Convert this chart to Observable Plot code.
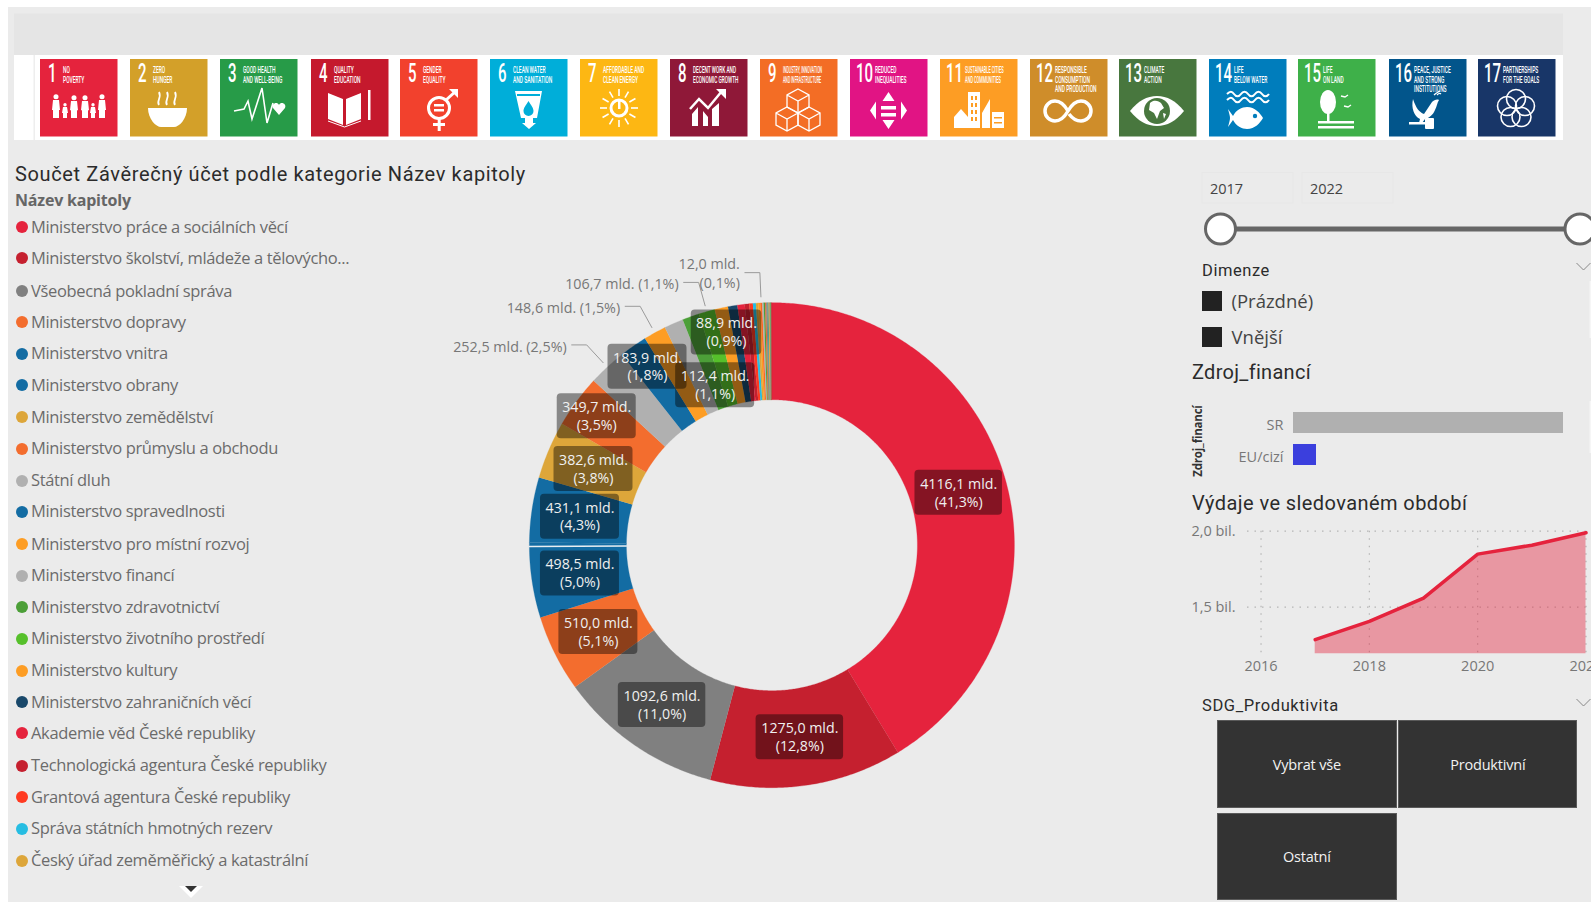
<!DOCTYPE html>
<html lang="cs">
<head>
<meta charset="utf-8">
<title>Závěrečný účet podle kapitol</title>
<script src="https://cdn.jsdelivr.net/npm/d3@7"></script>
<script src="https://cdn.jsdelivr.net/npm/@observablehq/plot@0.6"></script>
<style>
  html, body { margin: 0; padding: 0; background: #fff; overflow: hidden; }
  #page { position: absolute; left: 0; top: 0; width: 1591px; height: 902px; overflow: hidden; }
  #bg { position: absolute; left: 8px; top: 7px; right: 0; bottom: 0; background: #ebebeb; }
  .t { position: absolute; white-space: nowrap; line-height: 1; transform: translateY(-50%); }
  .body { font-family: "Open Sans", sans-serif; }
  .din { font-family: Roboto, sans-serif; color: #2b2b2b; }
  .legend { font-size: 16.5px; color: #6b6b6b; letter-spacing: -0.35px; }
  .dot { position: absolute; width: 12px; height: 12px; border-radius: 50%; }
  .box { position: absolute; box-sizing: border-box; }
  .btn { position: absolute; box-sizing: border-box; background: #333; border: 1.5px solid #5a5a5a; color: #f2f2f2;
         display: flex; align-items: center; justify-content: center; font: 14.5px "Open Sans", sans-serif; letter-spacing: -0.2px; }
  .plot-holder { position: absolute; }
  .plot-holder svg { max-width: none !important; }
  svg.overlay { position: absolute; left: 0; top: 0; }
</style>
</head>
<body>
<div id="page"><div id="bg"></div></div>
<script>
// ---- Chapters of the state budget, clockwise from twelve o'clock (billions CZK) ----
const chapterNames = [
  "Ministerstvo práce a sociálních věcí", "Ministerstvo školství, mládeže a tělovýcho...", "Všeobecná pokladní správa",
  "Ministerstvo dopravy", "Ministerstvo vnitra", "Ministerstvo obrany", "Ministerstvo zemědělství",
  "Ministerstvo průmyslu a obchodu", "Státní dluh", "Ministerstvo spravedlnosti", "Ministerstvo pro místní rozvoj",
  "Ministerstvo financí", "Ministerstvo zdravotnictví", "Ministerstvo životního prostředí", "Ministerstvo kultury",
  "Ministerstvo zahraničních věcí", "Akademie věd České republiky", "Technologická agentura České republiky",
  "Grantová agentura České republiky", "Správa státních hmotných rezerv", "Český úřad zeměměřický a katastrální"
];
const chapterValues = [4116.1, 1275.0, 1092.6, 510.0, 498.5, 431.1, 382.6, 349.7, 252.5, 183.9, 148.6,
                       128, 112.4, 106.7, 88.9, 62, 48, 30, 24, 20, 15];
const chapterColors = ["#e5233d", "#c5202f", "#808080", "#f36d2e", "#136ca3", "#136ca3", "#dda63a", "#f36d2e",
                       "#b0b0b0", "#136ca3", "#fd9d24", "#b0b0b0", "#4c9f38", "#56c02b", "#fd9d24", "#19486a",
                       "#e5233d", "#c5202f", "#ff3a21", "#26bde2", "#dda63a"];
// Small chapters further down the scrolling legend
const smallValues = [14, 12.0, 10, 9, 8, 8, 7, 6, 6, 5, 5];
const smallColors = ["#fd9d24", "#fd6925", "#b0b0b0", "#4c9f38", "#dd6b3a", "#808080", "#3f9e8f", "#fd9d24", "#808080", "#56a03b", "#c5202f"];

// Chapters whose label is drawn outside the ring with a leader line
const outsideLabels = ["Státní dluh", "Ministerstvo pro místní rozvoj", "Ministerstvo životního prostředí", "malá kapitola 2"];
// Chapters without any label
const unlabelled = ["Ministerstvo financí"];
// Labels pushed away from the middle of the ring so they do not collide
const labelRadii = { "Ministerstvo průmyslu a obchodu": 0.897, "Ministerstvo spravedlnosti": 0.897,
                     "Ministerstvo kultury": 0.897, "Ministerstvo zdravotnictví": 0.70 };

// ---- Goals strip ----
const goalNumbers = ["1","2","3","4","5","6","7","8","9","10","11","12","13","14","15","16","17"];
const goalTitles = [["NO","POVERTY"],["ZERO","HUNGER"],["GOOD HEALTH","AND WELL-BEING"],["QUALITY","EDUCATION"],["GENDER","EQUALITY"],
  ["CLEAN WATER","AND SANITATION"],["AFFORDABLE AND","CLEAN ENERGY"],["DECENT WORK AND","ECONOMIC GROWTH"],["INDUSTRY, INNOVATION","AND INFRASTRUCTURE"],
  ["REDUCED","INEQUALITIES"],["SUSTAINABLE CITIES","AND COMMUNITIES"],["RESPONSIBLE","CONSUMPTION","AND PRODUCTION"],["CLIMATE","ACTION"],
  ["LIFE","BELOW WATER"],["LIFE","ON LAND"],["PEACE, JUSTICE","AND STRONG","INSTITUTIONS"],["PARTNERSHIPS","FOR THE GOALS"]];
const goalColors = ["#e5233d","#d3a029","#279b48","#c5192d","#f2412d","#00aed9","#fdb713","#8f1838","#f36d25","#e11484","#fd9d24","#cf8d2a","#48773e","#007dbc","#3eb049","#02558b","#183668"];
const goalLeft = [40,130,220,311,400,490,580,670,760,850,940,1030,1119,1209,1298,1389,1478];

// ---- Side panels ----
const yearRange = ["2017", "2022"];
const dimensionItems = ["(Prázdné)", "Vnější"];
const sourceNames = ["SR", "EU/cizí"];
const sourceValues = [9184, 782];
const sourceColors = ["#b0b0b0", "#3b3fdd"];
const spendYears = [2017, 2018, 2019, 2020, 2021, 2022];
const spendValues = [1.286, 1.406, 1.559, 1.849, 1.908, 1.99];
const spendYearTicks = [2016, 2018, 2020, 2022];
const spendValueTicks = [1.5, 2.0];
const spendValueLabels = ["1,5 bil.", "2,0 bil."];
const productivityItems = ["Vybrat vše", "Produktivní", "Ostatní"];

const page = document.getElementById("page");

function addText(text, x, y, cls, style = "") {
  const el = document.createElement("div");
  el.className = "t " + cls;
  el.textContent = text;
  el.style.cssText = `left:${x}px;top:${y}px;${style}`;
  page.appendChild(el);
  return el;
}
function addSvg(markup) {
  const host = document.createElement("div");
  host.innerHTML = `<svg class="overlay" width="1591" height="902" viewBox="0 0 1591 902">${markup}</svg>`;
  page.appendChild(host.firstChild);
}
function place(node, left, top) {
  const holder = document.createElement("div");
  holder.className = "plot-holder";
  holder.style.cssText = `left:${left}px;top:${top}px`;
  holder.appendChild(node);
  page.appendChild(holder);
}

// ---- Header band and goal tiles ----
function goalIcon(i, c) {
  const W = 'fill="#fff"', S = 'fill="none" stroke="#fff"';
  const person = (x, top, h, w) => `<circle cx="${x}" cy="${top + w * .45}" r="${w * .42}" ${W}/><path d="M${x - w / 2} ${top + w}h${w}l1 ${(h - w) * .55}h-1v${(h - w) * .45}h-${w}v-${(h - w) * .45}h-1z" ${W}/>`;
  const icons = [
    person(16, 35, 24, 6) + person(25, 44, 15, 4) + person(34, 36, 23, 6) + person(45, 36, 23, 6) + person(53, 44, 15, 4) + person(62, 35, 24, 6),
    `<path d="M18 49h39c0 11-8 19-13 19H31c-5 0-13-8-13-19z" ${W}/><path d="M29 46c-3-4 3-7 0-13M37 46c-3-4 3-7 0-13M45 46c-3-4 3-7 0-13" ${S} stroke-width="1.8"/>`,
    `<polyline points="14,52 24,50 28,42 32,60 42,29 47,64 53,44" ${S} stroke-width="1.6"/><path d="M59 56l-6-7c-2-4 4-7 6-3 2-4 8-1 6 3z" ${W}/>`,
    `<path d="M17 34l15 6v26l-15-6zM50 34l-15 6v26l15-6z" ${W}/><path d="M17 62l16.500 6 16.500-6" ${S} stroke-width="1"/><rect x="57" y="31" width="2.500" height="30" ${W}/>`,
    `<circle cx="39" cy="49" r="10.500" ${S} stroke-width="3"/><rect x="34" y="45" width="10" height="2.500" ${W}/><rect x="34" y="50" width="10" height="2.500" ${W}/><rect x="37.700" y="59" width="3" height="13" ${W}/><rect x="33" y="64" width="12" height="3" ${W}/><path d="M46 41l10-9" ${S} stroke-width="3"/><path d="M49 30h9v9z" ${W}/>`,
    `<path d="M25 32h27l-5 27h-4v5h3l-7 6-7-6h3v-5h-4z" ${W}/><path d="M38.500 42c3 5 5 7 5 10a5 5 0 0 1-10 0c0-3 2-5 5-10z" fill="${c}"/><rect x="27" y="35" width="23" height="2" fill="${c}"/>`,
    `<circle cx="39" cy="49" r="8" ${S} stroke-width="3"/><rect x="38" y="42" width="2.500" height="8" ${W}/>` + d3.range(12).map(k => { const a = k * Math.PI / 6; return `<line x1="${39 + 12 * Math.sin(a)}" y1="${49 - 12 * Math.cos(a)}" x2="${39 + 19 * Math.sin(a)}" y2="${49 - 19 * Math.cos(a)}" stroke="#fff" stroke-width="1.600"/>`; }).join(""),
    `<path d="M22 67V55l6-7v19zM33 67V52l5 6v9zM42 67V50l7-6v23z" ${W}/><polyline points="20,50 29,40 38,49 52,32" ${S} stroke-width="2.500"/><path d="M46 30h10v10z" ${W}/>`,
    `<g ${S} stroke-width="1.300"><path d="M38 30l11 6v12l-11 6-11-6V36zM27 36l11 6 11-6M38 42v12"/><path d="M27 48l11 6v12l-11 6-11-6V54zM16 54l11 6 11-6M27 60v12"/><path d="M49 48l11 6v12l-11 6-11-6V54zM38 54l11 6 11-6M49 60v12"/></g>`,
    `<path d="M38.500 33l6 9h-12zM38.500 70l6-9h-12zM20 51.500l6-9v18zM57 51.500l-6-9v18z" ${W}/><rect x="31" y="47" width="15" height="3.500" ${W}/><rect x="31" y="54" width="15" height="3.500" ${W}/>`,
    `<path d="M14 69V58l7-8 7 8v11zM28 69V33h12v36zM42 69V54l8-14v29zM52 69V53h12v16z" ${W}/>` + d3.range(4).map(k => `<rect x="31" y="${37 + k * 7}" width="2" height="4" fill="${c}"/><rect x="35" y="${37 + k * 7}" width="2" height="4" fill="${c}"/>`).join("") + `<rect x="54" y="58" width="8" height="1.500" fill="${c}"/><rect x="54" y="63" width="8" height="1.500" fill="${c}"/>`,
    `<path d="M38 52c-4-7-8-10-13-10a10 10 0 0 0 0 20c5 0 9-3 13-10c4-7 8-10 13-10a10 10 0 0 1 0 20c-5 0-9-3-12-7" ${S} stroke-width="3.500"/>`,
    `<path d="M11 52c8-10 17-15 27-15s19 5 27 15c-8 10-17 15-27 15s-19-5-27-15z" ${W}/><circle cx="38" cy="52" r="13" fill="${c}"/><path d="M31 44c4-4 9-2 11 0l3 5-4 3-3 8-3-6-5-3zM44 54l3 1-2 5z" ${W}/>`,
    `<path d="M18 35c3-3 5-3 7 0s5 3 7 0 5-3 7 0 5 3 7 0 5-3 7 0 5 3 7 0M18 41c3-3 5-3 7 0s5 3 7 0 5-3 7 0 5 3 7 0 5-3 7 0 5 3 7 0" ${S} stroke-width="2"/><path d="M19 50l5 7c3-6 9-9 14-9 8 0 13 6 16 11-3 5-8 11-16 11-5 0-11-3-14-9l-5 7c1-4 2-7 2-9s-1-5-2-9z" ${W}/><circle cx="46" cy="57" r="2.200" fill="${c}"/>`,
    `<ellipse cx="30" cy="43" rx="8" ry="12" ${W}/><rect x="29" y="52" width="2.500" height="10" ${W}/><rect x="20" y="62" width="36" height="2.500" ${W}/><rect x="20" y="67" width="36" height="2.500" ${W}/><path d="M43 37l4 1 3-2M46 47l4 1 3-2" ${S} stroke-width="1.300"/>`,
    `<path d="M24 40c3 9 6 13 11 15l8-12c2-2 5-3 7-2-2 3-2 6-4 10-2 5-6 8-10 9l-3 4h-3l1-4c-6-3-9-11-7-20z" ${W}/><path d="M45 36c2-2 4-3 6-4M48 36c1-1 3-2 4-1" ${S} stroke-width="1.200"/><rect x="20" y="63" width="24" height="2.500" ${W}/><rect x="36" y="59" width="9" height="11" rx="1" ${W}/>`,
    `<g ${S} stroke-width="1.600"><circle cx="38" cy="40" r="9.500"/><circle cx="29" cy="47" r="9.500"/><circle cx="47" cy="47" r="9.500"/><circle cx="32.500" cy="58" r="9.500"/><circle cx="43.500" cy="58" r="9.500"/></g>`
  ];
  return icons[i];
}
addSvg(
  `<rect x="14" y="13.500" width="1549" height="41.500" fill="#e5e5e5"/>` +
  `<rect x="14" y="55" width="1549" height="85" fill="#fff"/>` +
  `<rect x="33.500" y="55" width="1.500" height="85" fill="#eeeeee"/>` +
  goalNumbers.map((n, i) => {
    const x = goalLeft[i], two = n.length > 1;
    // Squeeze each caption so that its longest line stays inside the tile
    const longest = d3.max(goalTitles[i], line => line.length);
    const squeeze = Math.min(0.6, 47 / (longest * 5.4));
    const lines = goalTitles[i].map((line, k) =>
      `<text transform="translate(${two ? 25 : 23},${14 + k * 9.6}) scale(${squeeze},1)" font-size="8.2" font-weight="500" fill="#fff" font-family="Roboto">${line}</text>`).join("");
    return `<g transform="translate(${x},59)"><rect width="77.500" height="77.500" fill="${goalColors[i]}"/>` +
      `<text transform="translate(${two ? 6 : 8},23) scale(.6,1)" font-size="25" font-weight="500" fill="#fff" font-family="Roboto">${n}</text>` +
      lines + goalIcon(i, goalColors[i]) + `</g>`;
  }).join("")
);

// ---- Title and scrolling legend ----
addText("Součet Závěrečný účet podle kategorie Název kapitoly", 15, 174, "din", "font-size:20px;letter-spacing:.63px;");
addText("Název kapitoly", 15, 200, "body", "font-size:16px;font-weight:700;color:#666;letter-spacing:-.2px;");
const legendY = [226.5, 257.5, 290.5, 321.5, 353, 384.5, 416.5, 448, 480, 511, 543.5, 575, 606.5, 638, 670, 701.5, 732.5, 765, 796.5, 828, 860];
chapterNames.forEach((name, i) => {
  const dot = document.createElement("div");
  dot.className = "dot";
  dot.style.cssText = `left:16px;top:${legendY[i] - 5.5}px;background:${chapterColors[i]}`;
  page.appendChild(dot);
  addText(name, 31, legendY[i], "body legend");
});
addSvg(`<path d="M179 886h24l-12 12z" fill="#fff"/><path d="M185 886h12l-6 6z" fill="#333"/>`);

// ---- Donut ring: every slice is a closed outline in polar data coordinates ----
const smallNames = smallValues.map((_, i) => `malá kapitola ${i + 1}`);
const slices = [...chapterNames.map((name, i) => ({ name, value: chapterValues[i], color: chapterColors[i] })),
                ...smallNames.map((name, i) => ({ name, value: smallValues[i], color: smallColors[i] }))];
const total = d3.sum(slices, d => d.value);
let running = 0;
for (const s of slices) {
  s.a0 = running / total * 360;
  running += s.value;
  s.a1 = running / total * 360;
  s.mid = (s.a0 + s.a1) / 2;
}
const RING_INNER = 0.6;
const polar = (angle, r) => ({ x: r * Math.sin(angle * Math.PI / 180), y: r * Math.cos(angle * Math.PI / 180) });
const outline = slices.flatMap(s => {
  const n = Math.max(2, Math.ceil((s.a1 - s.a0) / 0.5));
  const angles = d3.range(n + 1).map(k => s.a0 + (s.a1 - s.a0) * k / n);
  return [...angles.map(a => polar(a, 1)), ...angles.reverse().map(a => polar(a, RING_INNER))]
    .map(p => ({ ...p, name: s.name }));
});
const czNumber = (v, d) => v.toFixed(d).replace(".", ",");
const valueText = d => `${czNumber(d.value, 1)} mld.`;
const shareText = d => `(${czNumber(d.value / total * 100, 1)}%)`;

const UNIT = 242.5;                       // pixels per ring radius
const ringW = 640, ringH = 570, cx = 341.4, cy = 304.7;
const px = v => v / UNIT;

const inside = slices.filter(s => s.value > 80 && !outsideLabels.includes(s.name) && !unlabelled.includes(s.name))
  .map(s => {
    const p = polar(s.mid, labelRadii[s.name] ?? 0.8);
    const text1 = valueText(s), half = (8.5 * text1.length - 6) / 2;
    return { ...p, text: `${text1}\n${shareText(s)}`, x1: p.x - px(half), x2: p.x + px(half), y1: p.y - px(22.5), y2: p.y + px(22.5) };
  });
const outside = slices.filter(s => outsideLabels.includes(s.name)).map(s => {
  const end = polar(s.mid, 1.025), elbow = polar(s.mid, 1.125);
  const two = s.name === "malá kapitola 2";
  return {
    leader: [end, elbow, { x: elbow.x - px(15), y: elbow.y }].map(p => ({ ...p, name: s.name })),
    x: elbow.x - px(20), y: elbow.y - px(two ? 0 : 1),
    text: two ? `${valueText(s)}\n${shareText(s)}` : `${valueText(s)} ${shareText(s)}`
  };
});
const sepAngle = 269.7;                    // hairline between the two blue chapters
const separator = [polar(sepAngle, 1), polar(sepAngle, RING_INNER)];

place(Plot.plot({
  width: ringW, height: ringH, margin: 0,
  x: { domain: [-cx / UNIT, (ringW - cx) / UNIT], range: [0, ringW], axis: null },
  y: { domain: [-(ringH - cy) / UNIT, cy / UNIT], range: [ringH, 0], axis: null },
  color: { domain: slices.map(d => d.name), range: slices.map(d => d.color) },
  style: { background: "transparent", fontFamily: '"Open Sans", sans-serif' },
  marks: [
    Plot.line(outline, { x: "x", y: "y", z: "name", fill: "name", stroke: "name", strokeWidth: 0.3 }),
    Plot.line(separator, { x: "x", y: "y", stroke: "#e8eef2", strokeWidth: 1.5 }),
    Plot.line(outside.flatMap(d => d.leader), { x: "x", y: "y", z: "name", stroke: "#9a9a9a", strokeWidth: 1 }),
    Plot.text(outside, { x: "x", y: "y", text: "text", textAnchor: "end", fill: "#777", fontSize: 14.3, lineHeight: 1.3 }),
    Plot.rect(inside, { x1: "x1", x2: "x2", y1: "y1", y2: "y2", fill: "#000", fillOpacity: 0.42, rx: 4 }),
    Plot.text(inside, { x: "x", y: "y", dy: -1, text: "text", fill: "#f0f0f0", fontSize: 14.2, lineHeight: 1.26 })
  ]
}), 430, 240);

// ---- Year slider ----
addSvg(
  `<g fill="none" stroke="#e7e7e7"><rect x="1202" y="172.500" width="91" height="30.500"/><rect x="1302" y="172.500" width="91" height="30.500"/></g>` +
  `<line x1="1220" y1="229" x2="1591" y2="229" stroke="#666" stroke-width="5"/>` +
  `<circle cx="1220.500" cy="229" r="15" fill="#fff" stroke="#666" stroke-width="3"/><circle cx="1580" cy="229" r="15" fill="#fff" stroke="#666" stroke-width="3"/>` +
  `<polyline points="1576.500,263 1583.500,270 1590.500,263" fill="none" stroke="#888"/><polyline points="1576.500,699 1583.500,706 1590.500,699" fill="none" stroke="#888"/>` +
  `<rect x="1589.500" y="281" width="1.500" height="57" fill="#f6f6f6"/><rect x="1589.500" y="401" width="1.500" height="52" fill="#f6f6f6"/>`
);
addText(yearRange[0], 1210, 189, "body", "font-size:14.500px;color:#444;");
addText(yearRange[1], 1310, 189, "body", "font-size:14.500px;color:#444;");

// ---- Dimension filter ----
addText("Dimenze", 1202, 270.5, "din", "font-size:16.500px;letter-spacing:.55px;");
dimensionItems.forEach((item, i) => {
  const y = [300.7, 337][i];
  const sq = document.createElement("div");
  sq.className = "box";
  sq.style.cssText = `left:1201.500px;top:${y - 10}px;width:20px;height:20px;background:#222`;
  page.appendChild(sq);
  addText(item, 1231.5, y, "body", "font-size:18.500px;color:#444;");
});

// ---- Funding source bars ----
addText("Zdroj_financí", 1192, 372, "din", "font-size:20px;letter-spacing:.3px;");
addText("Zdroj_financí", 1198, 440.5, "body", "font-size:11.500px;font-weight:700;color:#333;transform:translate(-50%,-50%) rotate(-90deg);letter-spacing:-.2px;");
const sources = sourceNames.map((name, i) => ({ name, value: sourceValues[i], color: sourceColors[i] }));
place(Plot.plot({
  width: 400, height: 77.6, marginTop: 0.4, marginBottom: 2, marginLeft: 113, marginRight: 17,
  x: { domain: [0, sourceValues[0]], axis: null },
  y: { domain: sourceNames, padding: 0.35, label: null },
  style: { background: "transparent", fontFamily: '"Open Sans", sans-serif', fontSize: "14.5px", color: "#777", overflow: "visible" },
  marks: [
    Plot.barX(sources, { x: "value", y: "name", fill: "color" }),
    Plot.axisY({ tickSize: 0, tickPadding: 10, dy: 2.5, label: null })
  ]
}), 1180, 400);

// ---- Spending over the observed period ----
addText("Výdaje ve sledovaném období", 1192, 503, "din", "font-size:20px;letter-spacing:.42px;");
const spend = spendYears.map((year, i) => ({ year, value: spendValues[i] }));
const spendFloor = 1.193;
place(Plot.plot({
  width: 460, height: 160, marginTop: 14.7, marginBottom: 22.7, marginLeft: 67, marginRight: 54.5,
  x: { domain: [2015.75, 2022], axis: null },
  y: { domain: [spendFloor, 2.0], axis: null },
  style: { background: "transparent", fontFamily: '"Open Sans", sans-serif', fontSize: "14.5px", color: "#777", overflow: "visible" },
  marks: [
    Plot.ruleX(spendYearTicks, { stroke: "#b5b5b5", strokeDasharray: "1.5 6", strokeWidth: 1.2 }),
    Plot.ruleY(spendValueTicks, { stroke: "#b5b5b5", strokeDasharray: "1.5 6", strokeWidth: 1.2 }),
    Plot.areaY(spend, { x: "year", y1: () => spendFloor, y2: "value", fill: "#e5233d", fillOpacity: 0.42 }),
    Plot.line(spend, { x: "year", y: "value", stroke: "#e5233d", strokeWidth: 3.5 }),
    Plot.axisX({ ticks: spendYearTicks, tickFormat: d => String(d), tickSize: 0, tickPadding: 7, label: null }),
    Plot.axisY({ ticks: spendValueTicks, tickFormat: v => spendValueLabels[spendValueTicks.indexOf(v)], tickSize: 0, tickPadding: 12, label: null })
  ]
}), 1180, 516);

// ---- Productivity tiles ----
addText("SDG_Produktivita", 1202, 705.5, "din", "font-size:16.500px;letter-spacing:.6px;");
[[1216.7, 720.3, 180.3, 87.7], [1398.3, 720.3, 179, 87.7], [1216.7, 812.7, 180.3, 87]].forEach(([l, t, w, h], i) => {
  const b = document.createElement("div");
  b.className = "btn";
  b.textContent = productivityItems[i];
  b.style.cssText = `left:${l}px;top:${t}px;width:${w}px;height:${h}px`;
  page.appendChild(b);
});
</script>
</body>
</html>
